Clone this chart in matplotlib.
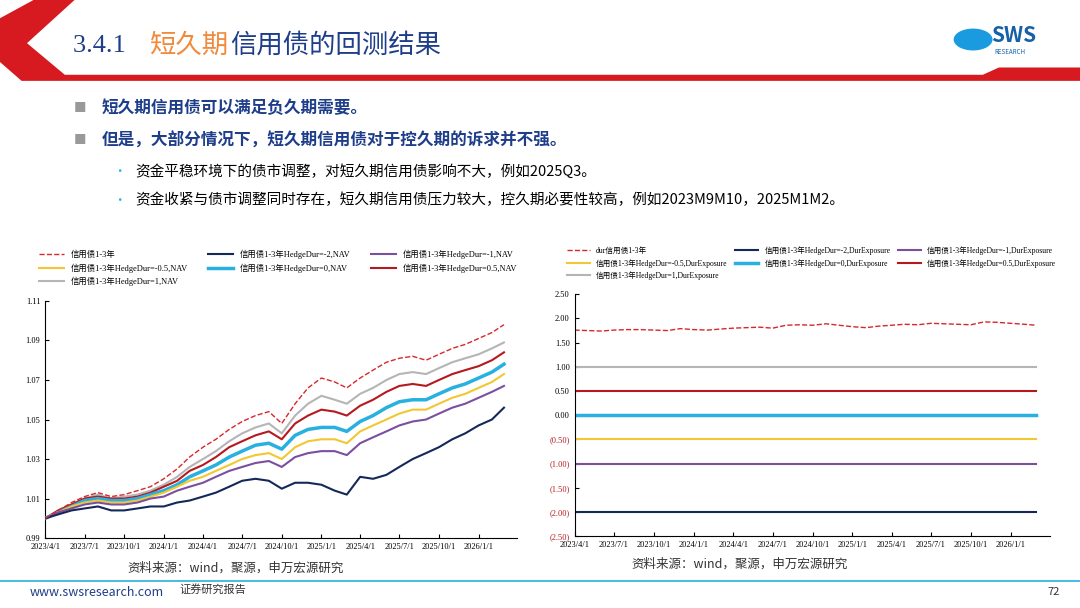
# %% [markdown]
# # 3.4.1 short-duration credit bond backtest — slide figure

# %%
import matplotlib.pyplot as plt
import matplotlib.dates as mdates
import matplotlib.patches as mpatches
import numpy as np
import pandas as pd

plt.rcParams["font.family"] = ["Noto Sans CJK SC", "DejaVu Sans"]

DATES = pd.date_range("2023-04-01", "2026-03-01", freq="MS")

# NAV series (month starts)
NAV_BASE = [1.000, 1.004, 1.008, 1.011, 1.013, 1.011, 1.012, 1.014, 1.016, 1.020, 1.025, 1.031,
            1.036, 1.040, 1.045, 1.049, 1.052, 1.054, 1.048, 1.058, 1.066, 1.071, 1.069, 1.066,
            1.071, 1.075, 1.079, 1.081, 1.082, 1.080, 1.083, 1.086, 1.088, 1.091, 1.094, 1.098]
NAV_P1 = [1.000, 1.004, 1.007, 1.010, 1.012, 1.010, 1.011, 1.012, 1.014, 1.017, 1.021, 1.026,
          1.030, 1.034, 1.039, 1.043, 1.046, 1.048, 1.043, 1.052, 1.058, 1.062, 1.060, 1.058,
          1.063, 1.066, 1.070, 1.073, 1.074, 1.073, 1.076, 1.079, 1.081, 1.083, 1.086, 1.089]
NAV_P05 = [1.000, 1.004, 1.007, 1.010, 1.011, 1.010, 1.010, 1.011, 1.013, 1.016, 1.019, 1.024,
           1.027, 1.031, 1.036, 1.039, 1.042, 1.044, 1.040, 1.048, 1.052, 1.055, 1.054, 1.052,
           1.057, 1.060, 1.064, 1.067, 1.068, 1.067, 1.070, 1.073, 1.075, 1.077, 1.080, 1.084]
NAV_0 = [1.000, 1.003, 1.006, 1.009, 1.010, 1.009, 1.009, 1.010, 1.012, 1.014, 1.017, 1.021,
         1.024, 1.027, 1.031, 1.034, 1.037, 1.038, 1.035, 1.042, 1.045, 1.046, 1.046, 1.044,
         1.049, 1.052, 1.056, 1.059, 1.060, 1.060, 1.063, 1.066, 1.068, 1.071, 1.074, 1.078]
NAV_M05 = [1.000, 1.003, 1.006, 1.008, 1.009, 1.008, 1.008, 1.009, 1.011, 1.013, 1.016, 1.019,
           1.021, 1.024, 1.027, 1.030, 1.032, 1.033, 1.030, 1.036, 1.039, 1.040, 1.040, 1.038,
           1.044, 1.047, 1.050, 1.053, 1.055, 1.055, 1.058, 1.061, 1.063, 1.066, 1.069, 1.073]
NAV_M1 = [1.000, 1.003, 1.005, 1.007, 1.008, 1.007, 1.007, 1.008, 1.010, 1.011, 1.014, 1.016,
          1.018, 1.021, 1.024, 1.026, 1.028, 1.029, 1.026, 1.031, 1.033, 1.034, 1.034, 1.032,
          1.038, 1.041, 1.044, 1.047, 1.049, 1.050, 1.053, 1.056, 1.058, 1.061, 1.064, 1.067]
NAV_M2 = [1.000, 1.002, 1.004, 1.005, 1.006, 1.004, 1.004, 1.005, 1.006, 1.006, 1.008, 1.009,
          1.011, 1.013, 1.016, 1.019, 1.020, 1.019, 1.015, 1.018, 1.018, 1.017, 1.014, 1.012,
          1.021, 1.020, 1.022, 1.026, 1.030, 1.033, 1.036, 1.040, 1.043, 1.047, 1.050, 1.056]

# duration exposure of the unhedged bond (right panel)
DUR_BASE = [1.76, 1.75, 1.74, 1.76, 1.77, 1.77, 1.76, 1.75, 1.79, 1.77, 1.76, 1.78,
            1.80, 1.81, 1.82, 1.80, 1.86, 1.87, 1.86, 1.89, 1.86, 1.83, 1.81, 1.84,
            1.86, 1.88, 1.87, 1.90, 1.89, 1.88, 1.87, 1.93, 1.92, 1.90, 1.88, 1.86]
HEDGE_LEVELS = [-2, -1, -0.5, 0, 0.5, 1]

LEFT_LABELS = ["信用债1-3年", "信用债1-3年HedgeDur=-2,NAV", "信用债1-3年HedgeDur=-1,NAV",
               "信用债1-3年HedgeDur=-0.5,NAV", "信用债1-3年HedgeDur=0,NAV", "信用债1-3年HedgeDur=0.5,NAV",
               "信用债1-3年HedgeDur=1,NAV"]
RIGHT_LABELS = ["dur信用债1-3年", "信用债1-3年HedgeDur=-2,DurExposure", "信用债1-3年HedgeDur=-1,DurExposure",
                "信用债1-3年HedgeDur=-0.5,DurExposure", "信用债1-3年HedgeDur=0,DurExposure",
                "信用债1-3年HedgeDur=0.5,DurExposure", "信用债1-3年HedgeDur=1,DurExposure"]
COLORS = ["#d9262b", "#14285a", "#7b4fa0", "#f2c732", "#27b0e0", "#b5191f", "#b5b5b5"]
WIDTHS = [1.0, 1.5, 1.5, 1.5, 2.5, 1.5, 1.5]
TICKS = pd.date_range("2023-04-01", "2026-01-01", freq="3MS")
SERIF = ["Times New Roman", "Liberation Serif", "Noto Sans CJK SC"]
ROW_ORDER = [0, 3, 6, 1, 4, 2, 5]  # matplotlib fills legend columns first


def legend_fmt(ax, handles, labels, size, spacing):
    """Legend above the plot, three columns, filled row by row."""
    leg = ax.legend([handles[i] for i in ROW_ORDER], [labels[i] for i in ROW_ORDER], ncol=3,
                    loc="lower left", bbox_to_anchor=(-0.03, 1.03), frameon=False, handlelength=3,
                    columnspacing=spacing, prop={"family": ["Liberation Serif", "Noto Sans CJK SC"], "size": size})
    return leg


def axis_fmt(ax):
    ax.set_xticks(TICKS)
    ax.xaxis.set_major_formatter(mdates.DateFormatter("%Y/%-m/1"))
    for spine in ("top", "right"):
        ax.spines[spine].set_visible(False)
    ax.tick_params(labelsize=6, length=3, direction="in")
    for t in ax.get_xticklabels() + ax.get_yticklabels():
        t.set_fontfamily(["Liberation Serif", "Noto Sans CJK SC"])


fig = plt.figure(figsize=(10.8, 6.08), dpi=100)

# %% slide decoration — red chevron running into the header band
fig.patches.append(mpatches.Polygon([(0.031, 1.0), (0.069, 1.0), (0.025, 0.929), (0.060, 0.877), (0.91, 0.877),
                                     (0.925, 0.889), (1.0, 0.889), (1.0, 0.867), (0.020, 0.867), (0.0, 0.898),
                                     (0.0, 0.970)], transform=fig.transFigure, facecolor="#d71920", edgecolor="none"))
fig.text(0.068, 0.925, "3.4.1 ", fontsize=19, color="#1f3e8a", va="center", fontfamily=SERIF)
fig.text(0.138, 0.925, "短久期", fontsize=19, color="#f08a3c", va="center")
fig.text(0.213, 0.925, "信用债的回测结果", fontsize=19, color="#1f3e8a", va="center")
fig.patches.append(mpatches.Circle((0.901, 0.935), 0.018, transform=fig.transFigure, facecolor="#1a9be0",
                                   edgecolor="none"))
fig.text(0.918, 0.942, "SWS", fontsize=15, color="#1560a8", va="center", fontweight="bold")
fig.text(0.921, 0.914, "RESEARCH", fontsize=4.5, color="#1560a8", va="center")

fig.text(0.068, 0.822, "■", fontsize=9, color="#999999", va="center")
fig.text(0.094, 0.822, "短久期信用债可以满足负久期需要。", fontsize=12, color="#1f3e8a", fontweight="bold", va="center")
fig.text(0.068, 0.769, "■", fontsize=9, color="#999999", va="center")
fig.text(0.094, 0.769, "但是，大部分情况下，短久期信用债对于控久期的诉求并不强。", fontsize=12, color="#1f3e8a",
         fontweight="bold", va="center")
fig.text(0.105, 0.718, "•", fontsize=9, color="#27b0e0", va="center")
fig.text(0.125, 0.718, "资金平稳环境下的债市调整，对短久期信用债影响不大，例如2025Q3。", fontsize=10.5, va="center")
fig.text(0.105, 0.671, "•", fontsize=9, color="#27b0e0", va="center")
fig.text(0.125, 0.671, "资金收紧与债市调整同时存在，短久期信用债压力较大，控久期必要性较高，例如2023M9M10，2025M1M2。",
         fontsize=10.5, va="center")

# %% left panel — NAV
ax1 = fig.add_axes([0.042, 0.115, 0.437, 0.39])
series = [NAV_BASE, NAV_M2, NAV_M1, NAV_M05, NAV_0, NAV_P05, NAV_P1]
handles = []
for vals, color, lw, i in zip(series, COLORS, WIDTHS, range(7)):
    ls = "--" if i == 0 else "-"
    (h,) = ax1.plot(DATES, vals, color=color, linewidth=lw, linestyle=ls, zorder=10 - i if i else 12)
    handles.append(h)
ax1.set_ylim(0.99, 1.11)
ax1.set_yticks(np.arange(0.99, 1.111, 0.02))
ax1.yaxis.set_major_formatter(plt.FormatStrFormatter("%.2f"))
ax1.set_xlim(pd.Timestamp("2023-04-01"), pd.Timestamp("2026-04-01"))
axis_fmt(ax1)
legend_fmt(ax1, handles, LEFT_LABELS, 6, 2.5)

# %% right panel — duration exposure
ax2 = fig.add_axes([0.532, 0.118, 0.44, 0.398])
handles = []
(h,) = ax2.plot(DATES, DUR_BASE, color=COLORS[0], linewidth=1.0, linestyle="--")
handles.append(h)
for lvl, color, lw in zip(HEDGE_LEVELS, COLORS[1:], WIDTHS[1:]):
    (h,) = ax2.plot(DATES, [lvl] * len(DATES), color=color, linewidth=lw)
    handles.append(h)
ax2.set_ylim(-2.5, 2.5)
ax2.set_yticks(np.arange(-2.5, 2.51, 0.5))
ax2.yaxis.set_major_formatter(plt.FuncFormatter(lambda v, _: f"({abs(v):.2f})" if v < -1e-9 else f"{v:.2f}"))
ax2.set_xlim(pd.Timestamp("2023-04-01"), pd.Timestamp("2026-04-01"))
axis_fmt(ax2)
for t, v in zip(ax2.get_yticklabels(), np.arange(-2.5, 2.51, 0.5)):
    if v < 0:
        t.set_color("#b5191f")
legend_fmt(ax2, handles, RIGHT_LABELS, 5.5, 1.0)

# %% footer
fig.text(0.118, 0.06, "资料来源：wind，聚源，申万宏源研究", fontsize=9, color="#333333")
fig.text(0.585, 0.066, "资料来源：wind，聚源，申万宏源研究", fontsize=9, color="#333333")
fig.add_artist(plt.Line2D([0, 1], [0.045, 0.045], color="#27b0e0", linewidth=1.2))
fig.text(0.027, 0.026, "www.swsresearch.com", fontsize=9, color="#1f3e8a", va="center")
fig.text(0.166, 0.03, "证券研究报告", fontsize=8, color="#333333", va="center")
fig.text(0.97, 0.026, "72", fontsize=8, color="#333333", va="center")

fig.savefig("out.png", dpi=100)
plt.close(fig)
